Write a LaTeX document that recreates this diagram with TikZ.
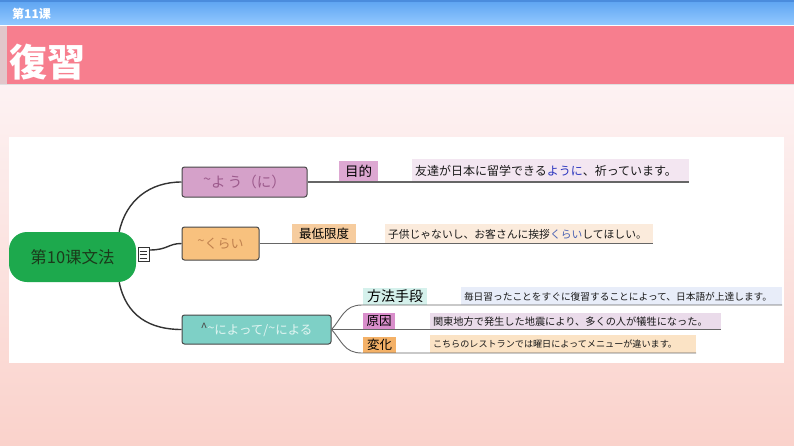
\documentclass[tikz,border=0pt]{standalone}
\usepackage{fontspec}
\setmainfont{Noto Sans CJK JP}
\newfontfamily\scfont{Noto Sans CJK SC}
\definecolor{bgtop}{HTML}{FDF2F3}
\definecolor{bgbot}{HTML}{FAD2CB}
\definecolor{blueA}{HTML}{5CA3F1}
\definecolor{blueB}{HTML}{93C9FF}
\definecolor{blueLine}{HTML}{4A8CDD}
\definecolor{pinkbar}{HTML}{F77E8E}
\definecolor{strip}{HTML}{E2C6CA}
\definecolor{rootgreen}{HTML}{1DA94D}
\definecolor{roottext}{HTML}{1B3A1B}
\definecolor{boxA}{HTML}{D5A1C9}
\definecolor{boxAtext}{HTML}{9C5A8C}
\definecolor{boxB}{HTML}{F8C17E}
\definecolor{boxBtext}{HTML}{C0814E}
\definecolor{boxC}{HTML}{7ED0C6}
\definecolor{boxCtext}{HTML}{E2F5F2}
\definecolor{lblA}{HTML}{DDA8D2}
\definecolor{lblB}{HTML}{F6CC9E}
\definecolor{lblC}{HTML}{D5F1EC}
\definecolor{lblD}{HTML}{D98ECB}
\definecolor{lblE}{HTML}{F4B167}
\definecolor{sA}{HTML}{F3E6F1}
\definecolor{sB}{HTML}{FBEBDC}
\definecolor{sC}{HTML}{E8EDF9}
\definecolor{sD}{HTML}{EADBEA}
\definecolor{sE}{HTML}{FBE3C5}
\definecolor{hl}{HTML}{2B36BE}
\definecolor{hl2}{HTML}{4A62B4}
\definecolor{gline}{HTML}{666666}
\definecolor{conn}{HTML}{333333}
\begin{document}
\begin{tikzpicture}[x=1pt,y=-1pt,
  branch/.style={draw=conn!90,line width=1pt,rounded corners=2.5pt,inner sep=0pt},
  lbl/.style={inner sep=0pt,text=black},
  sent/.style={inner xsep=3pt,inner ysep=0pt,align=left,text=black!90,text depth=0pt},
  gl/.style={draw=gline,line width=1.1pt},
  cn/.style={draw=conn,line width=1.4pt}]
\useasboundingbox (0,0) rectangle (794,445);
% backgrounds
\shade[top color=bgtop,bottom color=bgbot] (0,84) rectangle (794,445);
\shade[top color=blueA,bottom color=blueB] (0,0) rectangle (794,25);
\fill[blueLine] (0,0) rectangle (794,1.5);
\fill[white] (0,25) rectangle (794,26);
\fill[pinkbar] (0,26) rectangle (794,84);
\fill[strip] (0,26) rectangle (7,84);
\fill[black!12] (0,84) rectangle (794,85);
\fill[white] (9,137) rectangle (784,363);
% header texts
\node[text=white,anchor=west,inner sep=0pt,font=\scfont\bfseries\fontsize{12}{12}\selectfont] (hdr) at (12,13.5) {第11课};
\node[text=white,anchor=west,inner sep=0pt,font=\bfseries\fontsize{38}{38}\selectfont] (title) at (9,62) {復習};
% root
\node[fill=rootgreen,rounded corners=18pt,minimum width=127pt,minimum height=50pt,inner sep=0pt,
  text=roottext,font=\scfont\fontsize{16.5}{16.5}\selectfont] (root) at (72.5,257) {第10课文法};
% note icon
\node[draw=black!80,fill=white,line width=0.7pt,minimum width=11pt,minimum height=14pt,inner sep=0pt] (icon) at (143.5,254.5) {};
\draw[black!80,line width=0.6pt] ([xshift=2pt,yshift=-4pt]icon.north west) -- ([xshift=-2pt,yshift=-4pt]icon.north east)
  ([xshift=2pt,yshift=-7.5pt]icon.north west) -- ([xshift=-2pt,yshift=-7.5pt]icon.north east)
  ([xshift=2pt,yshift=-11pt]icon.north west) -- ([xshift=-2pt,yshift=-11pt]icon.north east);
% branch boxes
\node[branch,fill=boxA,minimum width=125pt,minimum height=30pt,text=boxAtext,font=\fontsize{14.5}{14.5}\selectfont] (b1) at (244.5,182)
  {\raisebox{3pt}{\textasciitilde}よ\,う（に）};
\node[branch,fill=boxB,minimum width=77pt,minimum height=33pt,text=boxBtext,font=\fontsize{13}{13}\selectfont] (b2) at (220.5,243.5)
  {\raisebox{3pt}{\textasciitilde}くらい};
\node[branch,fill=boxC,minimum width=149pt,minimum height=29pt,text=boxCtext,font=\fontsize{12.5}{12.5}\selectfont] (b3) at (256.5,329.5)
  {\raisebox{2pt}{\textcolor{black!70}{\textasciicircum}\textasciitilde}によって/\raisebox{2pt}{\textasciitilde}による};
% connectors from root
\draw[cn] ([xshift=-17pt]root.north east) .. controls (126,200) and (150,182) .. (b1.west);
\draw[cn] (icon.east |- 0,250) .. controls (168,250) and (168,243.5) .. (b2.west);
\draw[cn] ([xshift=-17pt]root.south east) .. controls (126,316) and (150,329.5) .. (b3.west);
% branch 1
\coordinate (e1) at (689,182);
\node[lbl,fill=lblA,minimum width=39pt,minimum height=21pt,font=\fontsize{13.5}{13.5}\selectfont] (l1) at (358.5,171.5) {目的};
\node[sent,fill=sA,text width=271pt,minimum height=23pt,font=\fontsize{12}{12}\selectfont] (s1) at (550.5,170.5)
  {友達が日本に留学できる\textcolor{hl}{ように}、祈っています。};
\draw[gl] (b1.east) -- (e1);
% branch 2
\coordinate (e2) at (653,243.5);
\node[lbl,fill=lblB,minimum width=64pt,minimum height=20pt,font=\fontsize{12.5}{12.5}\selectfont] (l2) at (324,233.5) {最低限度};
\node[sent,fill=sB,text width=262pt,minimum height=20pt,font=\fontsize{10.8}{10.8}\selectfont] (s2) at (519,233.5)
  {子供じゃないし、お客さんに挨拶\textcolor{hl2}{くらい}してほしい。};
\draw[gl] (b2.east) -- (e2);
% branch 3 labels
\node[lbl,fill=lblC,minimum width=64pt,minimum height=17pt,font=\fontsize{14}{14}\selectfont] (l3) at (395,296.5) {方法手段};
\node[sent,fill=sC,text width=315pt,minimum height=18pt,font=\fontsize{9.7}{9.7}\selectfont] (s3) at (621.5,296)
  {毎日習ったことをすぐに復習することによって、日本語が上達します。};
\node[lbl,fill=lblD,minimum width=32pt,minimum height=16pt,font=\fontsize{12.5}{12.5}\selectfont] (l4) at (379,321) {原因};
\node[sent,fill=sD,text width=285pt,minimum height=16pt,font=\fontsize{10.2}{10.2}\selectfont] (s4) at (575.5,321)
  {関東地方で発生した地震により、多くの人が犠牲になった。};
\node[lbl,fill=lblE,minimum width=33pt,minimum height=16pt,font=\fontsize{12.5}{12.5}\selectfont] (l5) at (379.5,345) {変化};
\node[sent,fill=sE,text width=260pt,minimum height=18pt,font=\fontsize{9.1}{9.1}\selectfont] (s5) at (563,344)
  {こちらのレストランでは曜日によってメニューが違います。};
% branch 3 fan
\coordinate (e3) at (782,305);
\coordinate (e4) at (721,329.5);
\coordinate (e5) at (696,353);
\draw[gl,line width=0.9pt] (b3.east) .. controls (342,318) and (344,305) .. (362,305) -- (e3);
\draw[gl,line width=0.9pt] (b3.east) -- (e4);
\draw[gl,line width=0.9pt] (b3.east) .. controls (342,341) and (344,353) .. (362,353) -- (e5);
\end{tikzpicture}
\end{document}
